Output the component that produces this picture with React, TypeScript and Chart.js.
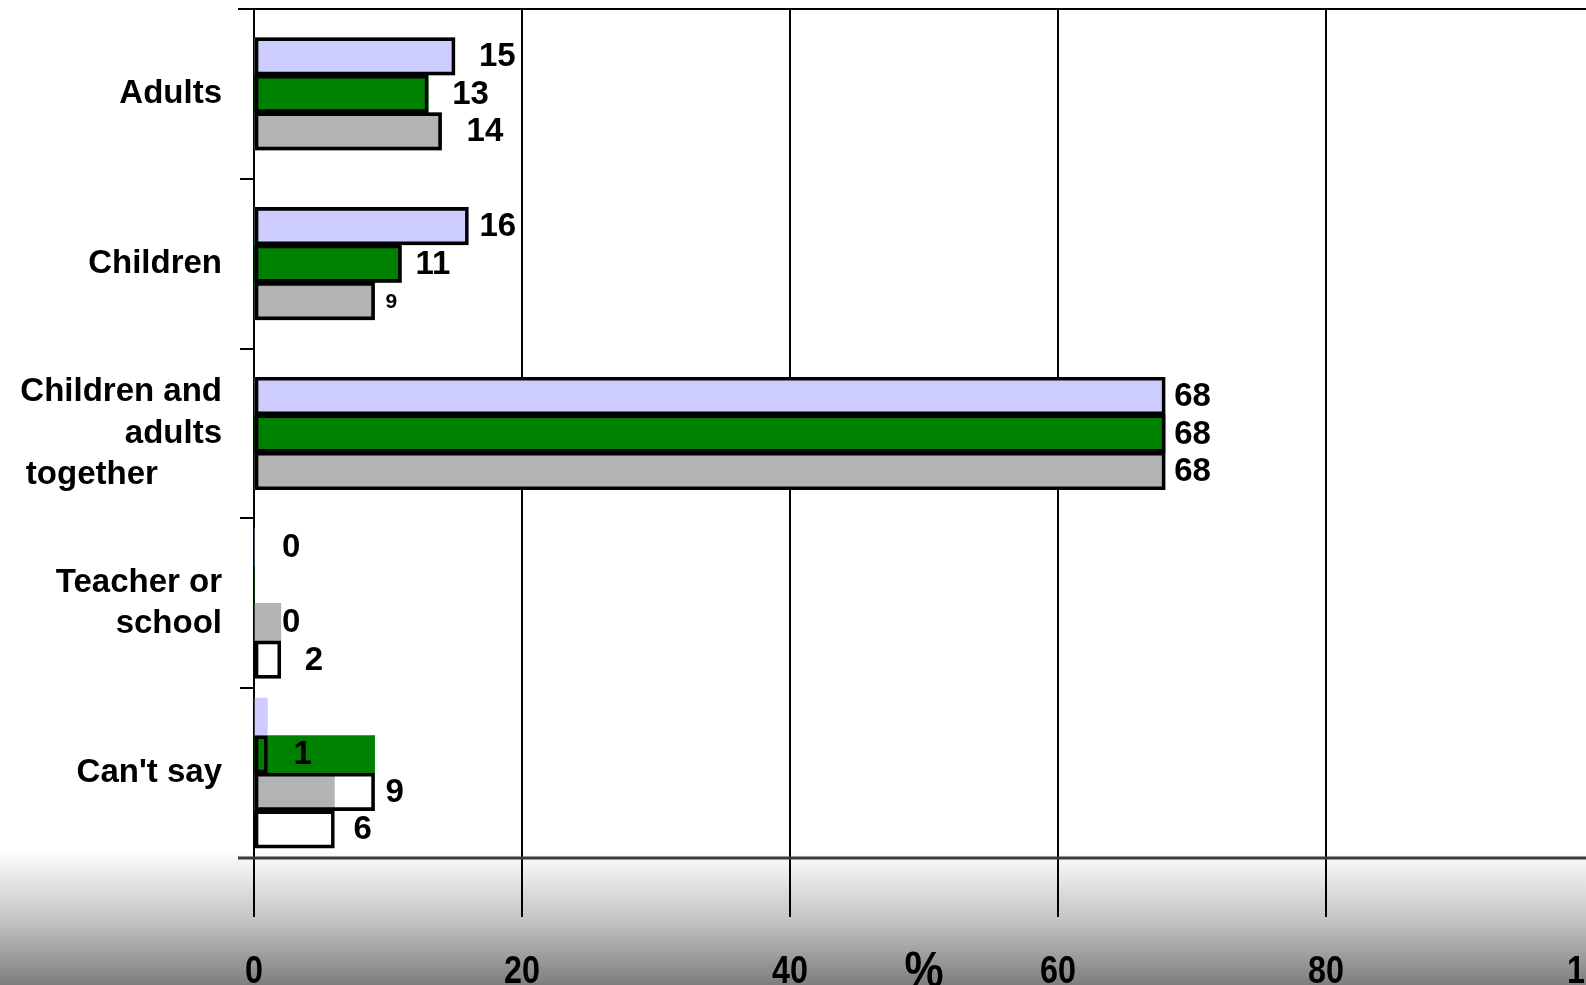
import React, { useEffect, useRef } from "react";
import { Chart, registerables } from "chart.js";

Chart.register(...registerables);

// Answer categories (multi-line where the label wraps)
const categories: (string | string[])[] = [
  "Adults",
  "Children",
  ["Children and", "adults", "together       "],
  ["Teacher or", "school"],
  "Can't say",
];

// Filled bars, one row per survey wave
const fillLavender: number[] = [15, 16, 68, 0, 1];
const fillGreen: number[] = [13, 11, 68, 0, 9];
const fillGrey: number[] = [14, 9, 68, 2, 6];

// Outlined, labelled bars (row slots 1..4)
const outlineRow1: (number | null)[] = [15, 16, 68, 0, null];
const outlineRow2: (number | null)[] = [13, 11, 68, null, 1];
const outlineRow3: (number | null)[] = [14, 9, 68, 0, 9];
const outlineRow4: (number | null)[] = [null, null, null, 2, 6];

// Zero-length bars that only keep the row slots of a group in order
const slotRow1: (number | null)[] = [null, null, null, null, 0];
const slotRow2: (number | null)[] = [null, null, null, 0, null];

const xTicks: number[] = [0, 20, 40, 60, 80, 100];
const axisUnit = "%";

const LABEL_FONT = "'Liberation Sans', Arial, sans-serif";

const CANVAS_W = 1640;
const CANVAS_H = 985;

const outlineStyle = {
  backgroundColor: "rgba(0,0,0,0)",
  borderColor: "#000000",
  borderWidth: 3,
  borderSkipped: false as const,
};

const fillStyle = { borderWidth: 0 };

const backgroundPlugin = {
  id: "pageBackground",
  beforeDraw(chart: any) {
    const { ctx, chartArea } = chart;
    ctx.save();
    ctx.fillStyle = "#ffffff";
    ctx.fillRect(0, 0, chart.width, chart.height);
    const top = chartArea.bottom - 8;
    const g = ctx.createLinearGradient(0, top, 0, chart.height);
    g.addColorStop(0, "#ffffff");
    g.addColorStop(0.5, "#c6c6c6");
    g.addColorStop(1, "#7e7e7e");
    ctx.fillStyle = g;
    ctx.fillRect(0, top, chart.width, chart.height - top);
    ctx.restore();
  },
};

// Draws condensed text centred on (x, y)
function condensedText(ctx: any, text: string, x: number, y: number, size: number, squeeze: number, baseline: string) {
  ctx.save();
  ctx.translate(x, y);
  ctx.scale(squeeze, 1);
  ctx.font = `bold ${size}px ${LABEL_FONT}`;
  ctx.textAlign = "center";
  ctx.textBaseline = baseline;
  ctx.fillText(text, 0, 0);
  ctx.restore();
}

const framePlugin = {
  id: "frameLines",
  afterDraw(chart: any) {
    const { ctx, chartArea } = chart;
    const x0 = chartArea.left - 16;
    ctx.save();
    ctx.strokeStyle = "#000000";
    ctx.lineWidth = 2;
    ctx.beginPath();
    ctx.moveTo(x0, chartArea.top);
    ctx.lineTo(chart.width, chartArea.top);
    ctx.stroke();
    ctx.strokeStyle = "#3a3a3a";
    ctx.lineWidth = 3;
    ctx.beginPath();
    ctx.moveTo(x0, chartArea.bottom);
    ctx.lineTo(chart.width, chartArea.bottom);
    ctx.stroke();
    ctx.fillStyle = "#000000";
    // value-axis tick labels, condensed
    const xs = chart.scales.x;
    xs.ticks.forEach((t: any) => {
      condensedText(ctx, String(t.value), xs.getPixelForValue(t.value), 983, 38, 0.85, "alphabetic");
    });
    // unit under the value axis
    condensedText(ctx, axisUnit, (xs.getPixelForValue(40) + xs.getPixelForValue(60)) / 2, 987, 50, 0.88, "alphabetic");
    ctx.restore();
  },
};

const valueLabelPlugin = {
  id: "valueLabels",
  afterDatasetsDraw(chart: any) {
    const { ctx } = chart;
    ctx.save();
    ctx.fillStyle = "#000000";
    ctx.textAlign = "left";
    ctx.textBaseline = "middle";
    chart.data.datasets.forEach((ds: any, i: number) => {
      if (!ds.labelGap) return;
      const meta = chart.getDatasetMeta(i);
      meta.data.forEach((el: any, j: number) => {
        const v = ds.data[j];
        if (v === null || v === undefined) return;
        const size = ds.labelSize ? ds.labelSize[j] : 33;
        ctx.font = `bold ${size}px ${LABEL_FONT}`;
        ctx.fillText(String(v), el.x + ds.labelGap[j], el.y + 1);
      });
    });
    ctx.restore();
  },
};

export default function App() {
  const canvasRef = useRef<HTMLCanvasElement | null>(null);

  useEffect(() => {
    document.body.style.margin = "0";
    document.body.style.overflow = "hidden";
    const canvas = canvasRef.current;
    if (!canvas) return;

    const chart = new Chart(canvas, {
      type: "bar",
      data: {
        labels: categories,
        datasets: [
          { label: "slot1", data: slotRow1, stack: "r1", backgroundColor: "rgba(0,0,0,0)", borderWidth: 0 },
          {
            label: "row1",
            data: outlineRow1,
            stack: "r1",
            ...outlineStyle,
            labelGap: [24, 11, 9, 28, 0],
          } as any,
          { label: "slot2", data: slotRow2, stack: "r2", backgroundColor: "rgba(0,0,0,0)", borderWidth: 0 },
          {
            label: "row2",
            data: outlineRow2,
            stack: "r2",
            ...outlineStyle,
            labelGap: [24, 14, 9, 0, 26],
          } as any,
          {
            label: "row3",
            data: outlineRow3,
            stack: "r3",
            ...outlineStyle,
            labelGap: [25, 11, 9, 28, 11],
            labelSize: [33, 21, 33, 33, 33],
          } as any,
          {
            label: "row4",
            data: outlineRow4,
            stack: "r4",
            ...outlineStyle,
            labelGap: [0, 0, 0, 24, 19],
          } as any,
          { label: "lavender", data: fillLavender, stack: "r1", backgroundColor: "#ccccff", ...fillStyle },
          { label: "green", data: fillGreen, stack: "r2", backgroundColor: "#008000", ...fillStyle },
          { label: "grey", data: fillGrey, stack: "r3", backgroundColor: "#b3b3b3", ...fillStyle },
        ],
      },
      options: {
        indexAxis: "y",
        responsive: false,
        animation: false,
        devicePixelRatio: 1,
        layout: { padding: { top: 9, right: CANVAS_W - 1594, bottom: 0, left: 0 } },
        datasets: {
          bar: { barThickness: 37.5, skipNull: true, grouped: true },
        },
        plugins: {
          legend: { display: false },
          tooltip: { enabled: false },
          title: { display: false },
        },
        scales: {
          x: {
            type: "linear",
            position: "bottom",
            min: 0,
            max: 100,
            stacked: false,
            z: 1,
            afterBuildTicks(scale: any) {
              scale.ticks = xTicks.map((v) => ({ value: v }));
            },
            afterFit(scale: any) {
              scale.height = 127;
              scale.paddingLeft = 0;
              scale.paddingRight = 0;
            },
            border: { display: false },
            grid: {
              color: "#000000",
              lineWidth: 2,
              drawTicks: true,
              tickLength: 59,
              tickColor: "#000000",
            },
            ticks: { display: false },
          },
          y: {
            type: "category",
            position: "left",
            offset: true,
            afterFit(scale: any) {
              scale.width = 254;
              scale.paddingTop = 0;
              scale.paddingBottom = 0;
            },
            border: { display: false },
            grid: {
              offset: true,
              drawOnChartArea: false,
              drawTicks: true,
              tickLength: 14,
              color: "#000000",
              tickColor: "#000000",
              lineWidth: 2,
            },
            ticks: {
              color: "#000000",
              padding: 18,
              autoSkip: false,
              font: { family: LABEL_FONT, size: 33, weight: "bold", lineHeight: 1.25 },
            },
          },
        },
      },
      plugins: [backgroundPlugin, valueLabelPlugin, framePlugin],
    } as any);

    return () => chart.destroy();
  }, []);

  return (
    <div style={{ width: 1586, height: CANVAS_H, overflow: "hidden", position: "relative" }}>
      <canvas ref={canvasRef} width={CANVAS_W} height={CANVAS_H} style={{ display: "block" }} />
    </div>
  );
}
